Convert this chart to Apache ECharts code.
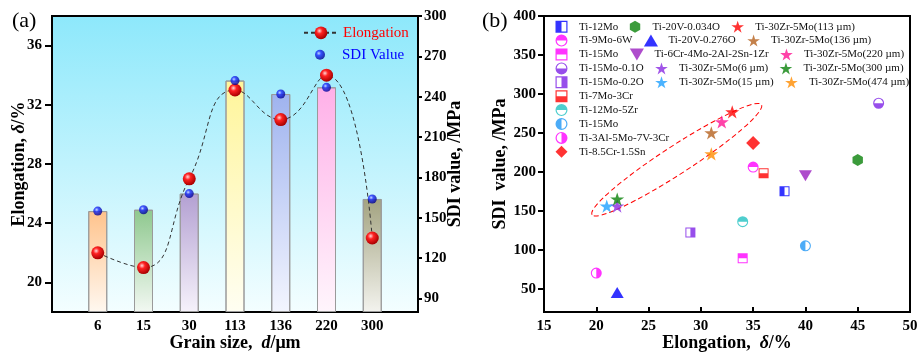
<!DOCTYPE html>
<html><head><meta charset="utf-8">
<script src="https://cdn.jsdelivr.net/npm/echarts@6/dist/echarts.min.js"></script>
<style>html,body{margin:0;padding:0;background:#fff}#c{width:919px;height:353px}</style>
</head><body><div id="c"></div>
<script>
// ---------- Panel (a) data ----------
const grainSizes = ['6', '15', '30', '113', '136', '220', '300'];
const elongationA = [22, 21, 27, 33, 31, 34, 23];
const sdiA = [155, 156, 168, 252, 242, 247, 164];
const elongTicks = [20, 24, 28, 32, 36];
const sdiTicksA = [90, 120, 150, 180, 210, 240, 270, 300];

// ---------- Panel (b) data ----------
const alloyNames = [
  'Ti-12Mo', 'Ti-9Mo-6W', 'Ti-15Mo', 'Ti-15Mo-0.1O', 'Ti-15Mo-0.2O',
  'Ti-7Mo-3Cr', 'Ti-12Mo-5Zr', 'Ti-15Mo ', 'Ti-3Al-5Mo-7V-3Cr', 'Ti-8.5Cr-1.5Sn',
  'Ti-20V-0.034O', 'Ti-20V-0.276O', 'Ti-6Cr-4Mo-2Al-2Sn-1Zr',
  'Ti-30Zr-5Mo(6 µm)', 'Ti-30Zr-5Mo(15 µm)', 'Ti-30Zr-5Mo(113 µm)', 'Ti-30Zr-5Mo(136 µm)',
  'Ti-30Zr-5Mo(220 µm)', 'Ti-30Zr-5Mo(300 µm)', 'Ti-30Zr-5Mo(474 µm)'
];
const alloyElong = [38, 35, 34, 47, 29, 36, 34, 40, 20, 35, 45, 22, 40, 22, 21, 33, 31, 32, 22, 31];
const alloySDI = [175, 206, 89, 288, 122, 198, 136, 105, 70, 237, 215, 45, 195, 156, 156, 277, 250, 264, 165, 223];
const sdiTicksB = [50, 100, 150, 200, 250, 300, 350, 400];
const legendRows = [
  [0, 10, 15], [1, 11, 16], [2, 12, 17], [3, 13, 18], [4, 14, 19],
  [5], [6], [7], [8], [9]
];

// ---------- styles ----------
const FF = "'Liberation Serif', 'Times New Roman', serif";
const barTop = ['#ffc38c', '#8ec88e', '#b3a0d2', '#fff59a', '#9fb3ef', '#ffb0e8', '#a3a380'];
const barBottom = ['#fff8f0', '#f2f8f2', '#f6f2fb', '#fffef2', '#f3f5fe', '#fff5fc', '#f3f3ee'];

const SQ = 'M0 0 L20 0 L20 20 L0 20 Z M2 2 L2 18 L18 18 L18 2 Z ';
const CI = 'M10 0 A10 10 0 1 1 10 20 A10 10 0 1 1 10 0 Z M10 2 A8 8 0 1 0 10 18 A8 8 0 1 0 10 2 Z ';
const shapes = {
  sqLeft: 'path://' + SQ + 'M2 2 L10 2 L10 18 L2 18 Z',
  sqRight: 'path://' + SQ + 'M10 2 L18 2 L18 18 L10 18 Z',
  sqTop: 'path://' + SQ + 'M2 2 L18 2 L18 10 L2 10 Z',
  sqBottom: 'path://' + SQ + 'M2 10 L18 10 L18 18 L2 18 Z',
  ciTop: 'path://' + CI + 'M2 10 A8 8 0 0 1 18 10 Z',
  ciBottom: 'path://' + CI + 'M18 10 A8 8 0 0 1 2 10 Z',
  ciLeft: 'path://' + CI + 'M10 18 A8 8 0 0 1 10 2 Z',
  ciRight: 'path://' + CI + 'M10 2 A8 8 0 0 1 10 18 Z',
  diamond: 'path://M10 0 L20 10 L10 20 L0 10 Z',
  hex: 'path://M10 0 L18.66 5 L18.66 15 L10 20 L1.34 15 L1.34 5 Z',
  tri: 'path://M10 0 L20 17 L0 17 Z',
  triDown: 'path://M0 0 L20 0 L10 17 Z',
  star: 'path://M10 0 L12.25 6.91 L19.51 6.91 L13.63 11.18 L15.88 18.09 L10 13.82 L4.12 18.09 L6.37 11.18 L0.49 6.91 L7.75 6.91 Z'
};
const alloySymbol = ['sqLeft', 'ciTop', 'sqTop', 'ciBottom', 'sqRight', 'sqBottom', 'ciTop', 'ciLeft', 'ciRight', 'diamond',
  'hex', 'tri', 'triDown', 'star', 'star', 'star', 'star', 'star', 'star', 'star'];
const alloyColor = ['#0000ff', '#ff00ff', '#ff00ff', '#7d22e6', '#7d22e6', '#ff0000', '#22c2c2', '#1e96f5', '#ff00ff', '#ff0000',
  '#0a820a', '#0000ff', '#9a1fbf', '#8a2be2', '#1ea0ff', '#ff0000', '#b5621e', '#ff1493', '#0a820a', '#ff8c00'];
const alloySize = [10, 11, 10, 11, 10, 10, 11, 11, 11, 14, 12, 13, 13, 14, 14, 14, 14, 14, 14, 14];

const redBall = { type: 'radial', x: 0.38, y: 0.35, r: 0.65, colorStops: [
  { offset: 0, color: '#ffd6d6' }, { offset: 0.35, color: '#ff2222' }, { offset: 1, color: '#a80000' }] };
const blueBall = { type: 'radial', x: 0.38, y: 0.35, r: 0.65, colorStops: [
  { offset: 0, color: '#c8d0ff' }, { offset: 0.35, color: '#1a2cff' }, { offset: 1, color: '#000090' }] };

const axisLine = { show: true, onZero: false, lineStyle: { color: '#000', width: 2 } };
const tickLabel = { color: '#000', fontFamily: FF, fontSize: 15, fontWeight: 'bold' };
const nameStyle = (extra) => Object.assign({
  fontFamily: FF, fontSize: 18, fontWeight: 'bold', color: '#000',
  rich: {
    b: { fontFamily: FF, fontSize: 18, fontWeight: 'bold', color: '#000' },
    i: { fontFamily: FF, fontSize: 18, fontWeight: 'bold', fontStyle: 'italic', color: '#000' }
  }
}, extra || {});

const chart = echarts.init(document.getElementById('c'), null, { renderer: 'canvas' });

const catA = [''].concat(grainSizes, ['']);
const pad = (arr) => [null].concat(arr, [null]);

const series = [
  {
    type: 'bar', name: 'SDI bars', xAxisIndex: 0, yAxisIndex: 1, barWidth: 19,
    data: pad(sdiA.map((v, i) => ({
      value: v,
      itemStyle: {
        color: { type: 'linear', x: 0, y: 0, x2: 0, y2: 1, colorStops: [
          { offset: 0, color: barTop[i] }, { offset: 1, color: barBottom[i] }] },
        borderColor: '#9a9a9a', borderWidth: 1
      }
    }))),
    silent: true
  },
  {
    type: 'line', name: 'Elongation', xAxisIndex: 0, yAxisIndex: 0,
    data: pad(elongationA), smooth: 0.5, symbol: 'circle', symbolSize: 13,
    lineStyle: { color: '#333', width: 1, type: [4, 3] },
    itemStyle: { color: redBall }, z: 4
  },
  {
    type: 'scatter', name: 'SDI Value', xAxisIndex: 0, yAxisIndex: 1,
    data: pad(sdiA), symbol: 'circle', symbolSize: 9,
    itemStyle: { color: blueBall }, z: 5
  }
];
alloyNames.forEach((n, i) => {
  series.push({
    type: 'scatter', name: n, xAxisIndex: 1, yAxisIndex: 2,
    data: [[alloyElong[i], alloySDI[i]]],
    symbol: shapes[alloySymbol[i]], symbolKeepAspect: true, symbolSize: alloySize[i],
    itemStyle: { color: alloyColor[i] }
  });
});

const legends = [
  { data: [{ name: 'Elongation', textStyle: { color: '#ff0000' } }], left: 303, top: 25.3, itemWidth: 34, itemHeight: 16,
    textStyle: { fontFamily: FF, fontSize: 15 }, padding: 0, selectedMode: false },
  { data: [{ name: 'SDI Value', textStyle: { color: '#0000ff' } }], left: 315, top: 47.3, itemWidth: 34, itemHeight: 10,
    textStyle: { fontFamily: FF, fontSize: 15 }, padding: 0, selectedMode: false }
];
legendRows.forEach((row, r) => {
  legends.push({
    data: row.map(i => alloyNames[i]), orient: 'horizontal', left: 555.5, top: 26.7 + 13.9 * r - 6,
    width: 360, itemWidth: 25, itemHeight: 12, itemGap: 11.5, padding: 0, selectedMode: false, symbolKeepAspect: true,
    textStyle: { fontFamily: FF, fontSize: 11, color: '#111' }
  });
});

chart.setOption({
  animation: false,
  backgroundColor: '#fff',
  grid: [
    { left: 52, right: 501, top: 16, bottom: 41, show: true, borderColor: '#000', borderWidth: 2,
      outerBoundsMode: 'none', containLabel: false,
      backgroundColor: { type: 'linear', x: 0, y: 0, x2: 0, y2: 1, colorStops: [
        { offset: 0, color: '#8de8fb' }, { offset: 1, color: '#f4feff' }] } },
    { left: 544, right: 9, top: 16, bottom: 41, show: true, borderColor: '#000', borderWidth: 2,
      outerBoundsMode: 'none', containLabel: false }
  ],
  legend: legends,
  xAxis: [
    { type: 'category', gridIndex: 0, data: catA, boundaryGap: false,
      axisLine: axisLine,
      axisTick: { show: true, inside: true, length: 5, interval: 0, lineStyle: { width: 2, color: '#000' } },
      axisLabel: Object.assign({ interval: 0, margin: 7 }, tickLabel),
      splitLine: { show: false },
      name: '{b|Grain size,  }{i|d}{b|/μm}', nameLocation: 'middle', nameGap: 22, nameMoveOverlap: false,
      nameTextStyle: nameStyle() },
    { type: 'value', gridIndex: 1, min: 15, max: 50, interval: 5,
      axisLine: axisLine,
      axisTick: { show: true, inside: true, length: 5, lineStyle: { width: 2, color: '#000' } },
      axisLabel: Object.assign({ margin: 7 }, tickLabel),
      splitLine: { show: false },
      name: '{b|Elongation,  }{i|δ}{b|/%}', nameLocation: 'middle', nameGap: 22, nameMoveOverlap: false,
      nameTextStyle: nameStyle() }
  ],
  yAxis: [
    { type: 'value', gridIndex: 0, position: 'left', min: 18, max: 38,
      axisLine: axisLine,
      axisTick: { show: true, length: 7, customValues: elongTicks, lineStyle: { width: 2, color: '#000' } },
      axisLabel: Object.assign({ customValues: elongTicks, margin: 10 }, tickLabel),
      splitLine: { show: false },
      name: '{b|Elongation, }{i|δ}{b|/%}', nameLocation: 'middle', nameRotate: 90, nameGap: 24, nameMoveOverlap: false,
      nameTextStyle: nameStyle() },
    { type: 'value', gridIndex: 0, position: 'right', min: 80, max: 300, startValue: 80,
      axisLine: axisLine,
      axisTick: { show: true, length: 4, customValues: sdiTicksA, lineStyle: { width: 2, color: '#000' } },
      axisLabel: Object.assign({ customValues: sdiTicksA, margin: 6 }, tickLabel),
      splitLine: { show: false },
      name: 'SDI value, /MPa', nameLocation: 'middle', nameRotate: 90, nameGap: 28, nameMoveOverlap: false,
      nameTextStyle: nameStyle() },
    { type: 'value', gridIndex: 1, position: 'left', min: 20, max: 400,
      axisLine: axisLine,
      axisTick: { show: true, length: 6, customValues: sdiTicksB, lineStyle: { width: 2, color: '#000' } },
      axisLabel: Object.assign({ customValues: sdiTicksB, margin: 8 }, tickLabel),
      splitLine: { show: false },
      name: 'SDI  value, /MPa', nameLocation: 'middle', nameRotate: 90, nameGap: 35, nameMoveOverlap: false,
      nameTextStyle: nameStyle() }
  ],
  series: series
});

// annotation ellipse around Ti-30Zr-5Mo points (centre in data units)
const ellipseCenter = [27.7, 215.5];
const c = chart.convertToPixel({ gridIndex: 1 }, ellipseCenter);
chart.setOption({
  graphic: [
    { type: 'text', left: 12, top: 10, style: { text: '(a)', font: '22px ' + FF, fill: '#000' } },
    { type: 'text', left: 482, top: 10, style: { text: '(b)', font: '22px ' + FF, fill: '#000' } },
    { type: 'ellipse', x: c[0], y: c[1], rotation: 33 * Math.PI / 180,
      shape: { cx: 0, cy: 0, rx: 101, ry: 14 },
      style: { fill: 'none', stroke: '#ff0000', lineWidth: 1, lineDash: [5, 3] }, z: 1 }
  ]
});
</script>
</body></html>
